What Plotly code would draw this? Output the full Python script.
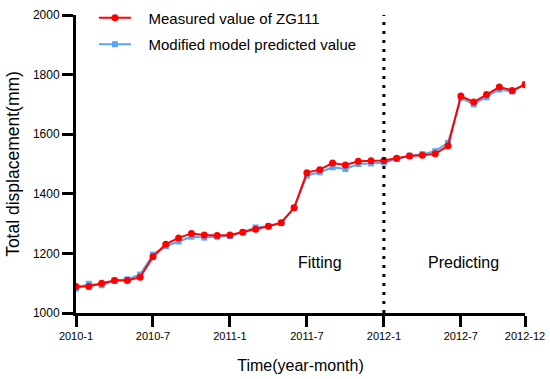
import plotly.graph_objects as go

months = ["2010-1","2010-2","2010-3","2010-4","2010-5","2010-6","2010-7","2010-8","2010-9","2010-10","2010-11","2010-12",
          "2011-1","2011-2","2011-3","2011-4","2011-5","2011-6","2011-7","2011-8","2011-9","2011-10","2011-11","2011-12",
          "2012-1","2012-2","2012-3","2012-4","2012-5","2012-6","2012-7","2012-8","2012-9","2012-10","2012-11","2012-12"]

measured = [1089, 1089, 1100, 1109, 1109, 1120, 1189, 1231, 1252, 1267, 1262, 1260,
            1262, 1271, 1281, 1291, 1303, 1353, 1471, 1481, 1503, 1497, 1509, 1511,
            1512, 1519, 1527, 1529, 1534, 1561, 1728, 1708, 1733, 1758, 1747, 1766]

predicted = [1082, 1098, 1093, 1109, 1113, 1129, 1196, 1224, 1240, 1256, 1253, 1256,
             1258, 1271, 1287, 1291, 1303, 1353, 1461, 1472, 1489, 1483, 1500, 1502,
             1505, 1517, 1528, 1533, 1543, 1571, 1722, 1700, 1724, 1750, 1743, 1768]

tick_labels = ["2010-1", "2010-7", "2011-1", "2011-7", "2012-1", "2012-7", "2012-12"]
y_ticks = [1000, 1200, 1400, 1600, 1800, 2000]
split_month = "2012-1"

FONT = "Liberation Sans, Arial, sans-serif"
NB = "\u00a0\u00a0\u00a0"

fig = go.Figure()
fig.add_trace(go.Scatter(
    x=months, y=predicted, mode="lines+markers", name=NB + "Modified model predicted value",
    legendgroup="b", legendrank=2,
    line=dict(color="#5aa5f2", width=2), marker=dict(symbol="square", size=6, color="#5aa5f2")))
fig.add_trace(go.Scatter(
    x=months, y=measured, mode="lines+markers", name=NB + "Measured value of ZG111",
    legendgroup="a", legendrank=1,
    line=dict(color="#ff0000", width=2), marker=dict(symbol="circle", size=7, color="#ff0000")))

fig.add_shape(type="line", xref="x", yref="y", x0=split_month, x1=split_month, y0=1000, y1=2000,
              line=dict(color="black", width=3, dash="3px,6px"))

fig.add_annotation(x="2011-8", y=1169, xref="x", yref="y", text="Fitting", showarrow=False,
                   font=dict(size=16, color="black", family=FONT))
fig.add_annotation(x="2012-7", y=1169, xref="x", yref="y", text="Predicting", showarrow=False,
                   xshift=3, font=dict(size=16, color="black", family=FONT))

fig.update_layout(
    width=550, height=379,
    margin=dict(l=76, r=25, t=15, b=66, autoexpand=False),
    paper_bgcolor="white", plot_bgcolor="white",
    font=dict(family=FONT, color="black"),
    showlegend=True,
    legend=dict(x=0.04, y=1.045, xanchor="left", yanchor="top", traceorder="grouped",
                tracegroupgap=4, itemwidth=32,
                font=dict(size=15, color="black", family=FONT), bgcolor="rgba(0,0,0,0)"),
    xaxis=dict(type="category", categoryorder="array", categoryarray=months,
               range=[0, 35], tickmode="array", tickvals=tick_labels, ticktext=tick_labels,
               showline=True, linecolor="black", linewidth=3, ticks="outside", ticklen=11,
               tickwidth=3, tickcolor="black", showgrid=False, zeroline=False, automargin=False,
               tickfont=dict(size=11, color="black"),
               title=dict(text="Time(year-month)", font=dict(size=16, color="black"), standoff=19)),
    yaxis=dict(range=[1000, 2000], tickvals=y_ticks,
               showline=True, linecolor="black", linewidth=3, ticks="outside", ticklen=11,
               tickwidth=3, tickcolor="black", showgrid=False, zeroline=False, automargin=False,
               tickfont=dict(size=12, color="black"),
               title=dict(text="Total displacement(mm)", font=dict(size=17.5, color="black"), standoff=9)),
)

fig.write_html("out.html", config={"displayModeBar": False},
               post_script="document.body.style.margin='0';")
